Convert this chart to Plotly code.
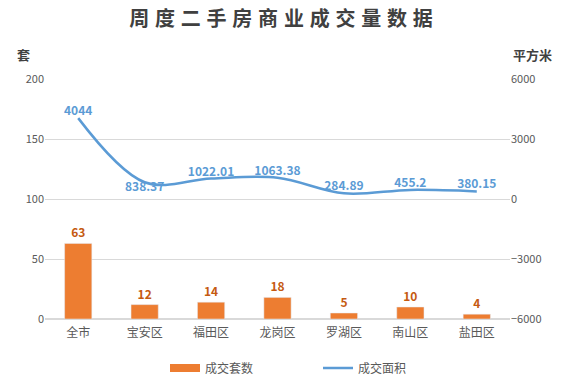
import plotly.graph_objects as go

categories = ["全市", "宝安区", "福田区", "龙岗区", "罗湖区", "南山区", "盐田区"]
units = [63, 12, 14, 18, 5, 10, 4]
area = [4044, 838.37, 1022.01, 1063.38, 284.89, 455.2, 380.15]
area_labels = ["4044", "838.37", "1022.01", "1063.38", "284.89", "455.2", "380.15"]
left_ticks = [0, 50, 100, 150, 200]
right_ticks = [-6000, -3000, 0, 3000, 6000]

FONT = "Noto Sans CJK SC, sans-serif"
ORANGE = "#ED7D31"
BLUE = "#5B9BD5"

fig = go.Figure()
fig.add_trace(go.Bar(
    x=categories, y=units, name="成交套数", showlegend=False,
    marker=dict(color=ORANGE), width=0.41,
    text=[str(v) for v in units], textposition="outside",
    textfont=dict(color="#C55A11", size=12, family=FONT, weight="bold"),
    cliponaxis=False,
))
# legend proxy for the bars (wide rectangle swatch)
fig.add_trace(go.Scatter(
    x=[None], y=[None], name="成交套数", mode="lines",
    line=dict(color=ORANGE, width=8),
))
fig.add_trace(go.Scatter(
    x=categories, y=area, name="成交面积", yaxis="y2",
    mode="lines+text",
    line=dict(color=BLUE, width=2.5, shape="spline", smoothing=1.0),
    text=area_labels,
    textposition=["top center", "bottom center", "top center", "top center",
                  "top center", "top center", "top center"],
    textfont=dict(color=BLUE, size=12, family=FONT, weight="bold"),
    cliponaxis=False,
))

title_text = " \u200a".join("周度二手房商业成交量数据")

fig.update_layout(
    width=562, height=385,
    margin=dict(l=45, r=52, t=79, b=66, autoexpand=False),
    paper_bgcolor="white", plot_bgcolor="white",
    font=dict(family=FONT, color="#595959", size=11),
    title=dict(text=title_text, x=0.5, xanchor="center",
               xref="container", y=1 - 19 / 385, yanchor="middle", yref="container",
               font=dict(size=20, color="#404040", family=FONT, weight="bold")),
    showlegend=True,
    legend=dict(orientation="h", xref="container", yref="container",
                x=165 / 562, xanchor="left", y=1 - 368 / 385, yanchor="middle",
                font=dict(size=12, color="#595959"), itemwidth=30,
                entrywidth=108, entrywidthmode="pixels", traceorder="normal"),
    bargap=0.5,
    xaxis=dict(showgrid=False, showline=False, ticks="", automargin=False,
               ticklabelstandoff=5, tickfont=dict(size=12, color="#595959")),
    yaxis=dict(range=[0, 200], tickvals=left_ticks, showgrid=True, gridcolor="#D9D9D9",
               gridwidth=1, zeroline=True, zerolinecolor="#D9D9D9", showline=False, ticks="",
               automargin=False, tickfont=dict(size=11, color="#595959")),
    yaxis2=dict(range=[-6000, 6000], tickvals=right_ticks, overlaying="y", side="right",
                showgrid=False, zeroline=False, showline=False, ticks="", automargin=False,
                tickfont=dict(size=11, color="#595959")),
    annotations=[
        dict(text="<b>套</b>", xref="paper", yref="paper", x=(23 - 45) / 465, y=(319 - 55) / 240,
             xanchor="center", yanchor="middle", showarrow=False,
             font=dict(size=13, color="#404040")),
        dict(text="<b>平方米</b>", xref="paper", yref="paper", x=(532 - 45) / 465,
             y=(319 - 55) / 240, xanchor="center", yanchor="middle", showarrow=False,
             font=dict(size=13, color="#404040")),
    ],
)

fig.write_html("out.html", config={"displayModeBar": False},
               post_script="document.body.style.margin='0';")
